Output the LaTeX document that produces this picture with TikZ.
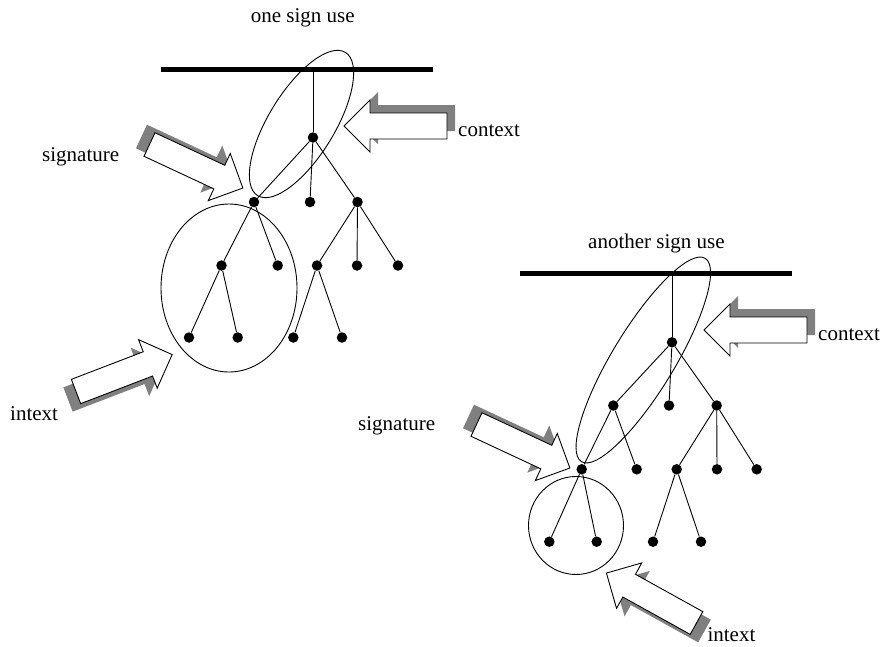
\documentclass[tikz,border=0pt]{standalone}
\usepackage{fontspec}
\setmainfont{Liberation Serif}
\definecolor{sombragris}{gray}{0.5}
\tikzset{
  nodo/.style={circle, fill=black, minimum size=10.5pt, inner sep=0pt},
  rama/.style={line width=0.9pt},
  barra/.style={line width=4.6pt},
  cerco/.style={line width=0.9pt},
  etiq/.style={anchor=base west, inner sep=0pt, font=\fontsize{21}{25}\selectfont},
  sombra/.style={fill=sombragris},
  bloque/.style={draw, fill=white, line width=0.9pt, line join=miter},
  flechon/.pic={\path[pic actions] (0,-13) -- (77,-13) -- (77,-26) -- (103,0) -- (77,26) -- (77,13) -- (0,13) -- cycle;}
}

\begin{document}
\begin{tikzpicture}[x=1pt,y=-1pt]
\useasboundingbox (0,0) rectangle (881,646);

% first sign use
\node[etiq] (uso1) at (250.7,22.7) {one sign use};
\coordinate (b1i) at (161,69.3);
\coordinate (b1d) at (433,69.3);
\coordinate (t1) at (313,69.3);
\draw[barra] (b1i) -- (b1d);

\node[nodo] (n1) at (313,137.5) {};
\node[nodo] (n11) at (254,202) {};
\node[nodo] (n12) at (310,202) {};
\node[nodo] (n13) at (357.5,202) {};
\node[nodo] (n111) at (221.5,265.5) {};
\node[nodo] (n112) at (277.7,265.5) {};
\node[nodo] (n1111) at (189,337.5) {};
\node[nodo] (n1112) at (237.7,337.5) {};
\node[nodo] (n131) at (317,265.5) {};
\node[nodo] (n132) at (357,265.5) {};
\node[nodo] (n133) at (398,265.5) {};
\node[nodo] (n1311) at (293.3,337.5) {};
\node[nodo] (n1312) at (342,337.5) {};

\draw[rama] (t1) -- (n1);
\draw[rama] (n1) -- (n11) (n1) -- (n12) (n1) -- (n13);
\draw[rama] (n11) -- (n111) (n11) -- (n112);
\draw[rama] (n111) -- (n1111) (n111) -- (n1112);
\draw[rama] (n13) -- (n131) (n13) -- (n132) (n13) -- (n133);
\draw[rama] (n131) -- (n1311) (n131) -- (n1312);

\draw[cerco,rotate around={58.5:(301.5,124)}] (301.5,124) ellipse [x radius=84pt, y radius=33pt];
\draw[cerco] (229,288) ellipse [x radius=68pt, y radius=84pt];

\pic[sombra,rotate=-25] at (141.5,136.5) {flechon};
\pic[bloque,rotate=-25] at (149.5,144.5) {flechon};
\pic[sombra,rotate=180] at (455,118) {flechon};
\pic[bloque,rotate=180] at (447,126) {flechon};
\pic[sombra,rotate=21] at (68,399.5) {flechon};
\pic[bloque,rotate=21] at (76,391.5) {flechon};

\node[etiq] (firma1) at (42,161) {signature};
\node[etiq] (contexto1) at (458,136.5) {context};
\node[etiq] (intexto1) at (10,420) {intext};

% another sign use
\node[etiq] (uso2) at (588,248.5) {another sign use};
\coordinate (b2i) at (520,273.3);
\coordinate (b2d) at (792,273.3);
\coordinate (t2) at (672,273.3);
\draw[barra] (b2i) -- (b2d);

\node[nodo] (m1) at (672,342.3) {};
\node[nodo] (m11) at (613.3,405.5) {};
\node[nodo] (m12) at (669,405.5) {};
\node[nodo] (m13) at (716.7,405.5) {};
\node[nodo] (m111) at (581.7,469.3) {};
\node[nodo] (m112) at (636.7,469.3) {};
\node[nodo] (m1111) at (549.3,541.7) {};
\node[nodo] (m1112) at (596.7,541.7) {};
\node[nodo] (m131) at (676.7,469.3) {};
\node[nodo] (m132) at (717,469.3) {};
\node[nodo] (m133) at (756.7,469.3) {};
\node[nodo] (m1311) at (653,541.7) {};
\node[nodo] (m1312) at (701,541.7) {};

\draw[rama] (t2) -- (m1);
\draw[rama] (m1) -- (m11) (m1) -- (m12) (m1) -- (m13);
\draw[rama] (m11) -- (m111) (m11) -- (m112);
\draw[rama] (m111) -- (m1111) (m111) -- (m1112);
\draw[rama] (m13) -- (m131) (m13) -- (m132) (m13) -- (m133);
\draw[rama] (m131) -- (m1311) (m131) -- (m1312);

\draw[cerco,rotate around={58.7:(643.3,360)}] (643.3,360) ellipse [x radius=119pt, y radius=31pt];
\draw[cerco] (576,525.5) ellipse [x radius=47.5pt, y radius=49pt];

\pic[sombra,rotate=-25] at (468.5,416.5) {flechon};
\pic[bloque,rotate=-25] at (476.5,424.5) {flechon};
\pic[sombra,rotate=180] at (815,322) {flechon};
\pic[bloque,rotate=180] at (807,330) {flechon};
\pic[sombra,rotate=151] at (704.5,631) {flechon};
\pic[bloque,rotate=151] at (696.5,623) {flechon};

\node[etiq] (firma2) at (358,430) {signature};
\node[etiq] (contexto2) at (818,340.5) {context};
\node[etiq] (intexto2) at (707.3,641.7) {intext};
\end{tikzpicture}
\end{document}
